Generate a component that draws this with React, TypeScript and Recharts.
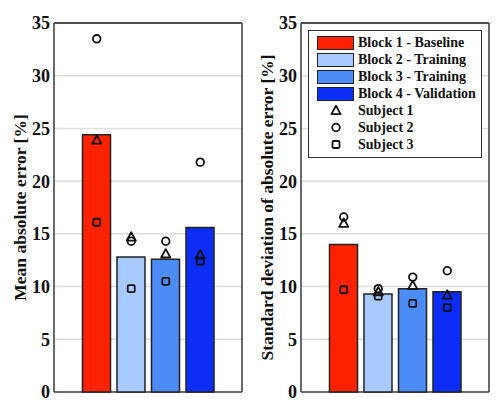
import React from "react";
import { ComposedChart, Bar, Scatter, XAxis, YAxis, CartesianGrid, Legend, Cell, ReferenceLine } from "recharts";

const blocks = ["Block 1 - Baseline", "Block 2 - Training", "Block 3 - Training", "Block 4 - Validation"];
const blockColors = ["#ff2200", "#a9caff", "#4b8cf7", "#0b2df6"];
const subjects = ["Subject 1", "Subject 2", "Subject 3"];
const yTicks = [0, 5, 10, 15, 20, 25, 30, 35];

// mean absolute error [%]
const meanError = [24.4, 12.8, 12.6, 15.6];
const meanS1 = [23.9, 14.7, 13.1, 13.0];
const meanS2 = [33.5, 14.3, 14.3, 21.8];
const meanS3 = [16.1, 9.8, 10.5, 12.4];

// standard deviation of absolute error [%]
const sdError = [14.0, 9.3, 9.8, 9.5];
const sdS1 = [16.0, 9.5, 10.1, 9.2];
const sdS2 = [16.6, 9.8, 10.9, 11.5];
const sdS3 = [9.7, 9.1, 8.4, 8.0];

const font = "'Liberation Serif', 'Times New Roman', serif";
const ink = "#111";

const meanData = blocks.map((b, i) => ({ block: b, value: meanError[i], s1: meanS1[i], s2: meanS2[i], s3: meanS3[i] }));
const sdData = blocks.map((b, i) => ({ block: b, value: sdError[i], s1: sdS1[i], s2: sdS2[i], s3: sdS3[i] }));

const Triangle = (p: any) =>
  p.cx == null ? null : (
    <path
      d={`M${p.cx},${p.cy - 4.8} L${p.cx + 4.6},${p.cy + 3.6} L${p.cx - 4.6},${p.cy + 3.6} Z`}
      fill="none"
      stroke={ink}
      strokeWidth={1.8}
      strokeLinejoin="round"
    />
  );
const Circle = (p: any) =>
  p.cx == null ? null : <circle cx={p.cx} cy={p.cy} r={3.8} fill="none" stroke={ink} strokeWidth={1.8} />;
const Square = (p: any) =>
  p.cx == null ? null : (
    <rect x={p.cx - 3.5} y={p.cy - 3.5} width={7} height={7} rx={1.2} fill="none" stroke={ink} strokeWidth={1.8} />
  );

const markerShapes = [Triangle, Circle, Square];

// box around the plot area, taken from the chart's own offset
const frameX = ({ offset }: any) => [offset.left, offset.left + offset.width];
const frameY = ({ offset }: any) => [offset.top, offset.top + offset.height];

function LegendBox() {
  return (
    <div
      style={{
        width: 174,
        height: 128,
        boxSizing: "border-box",
        border: "1.5px solid #333",
        background: "#fff",
        paddingTop: 3,
        fontFamily: font,
        fontWeight: 700,
        fontSize: 14,
        color: ink,
      }}
    >
      {blocks.map((b, i) => (
        <div key={b} style={{ display: "flex", alignItems: "center", height: 17 }}>
          <div
            style={{
              marginLeft: 8,
              width: 37,
              height: 14,
              boxSizing: "border-box",
              border: "1.5px solid #222",
              background: blockColors[i],
            }}
          />
          <span style={{ marginLeft: 4, whiteSpace: "nowrap" }}>{b}</span>
        </div>
      ))}
      {subjects.map((s, i) => {
        const Shape = markerShapes[i];
        return (
          <div key={s} style={{ display: "flex", alignItems: "center", height: 17 }}>
            <svg width={49} height={17}>
              <Shape cx={27} cy={8.5} />
            </svg>
            <span style={{ whiteSpace: "nowrap" }}>{s}</span>
          </div>
        );
      })}
    </div>
  );
}

function Panel({ data, title, yWidth, titleOffset, rightMargin, withLegend }: any) {
  const tickStyle = { fontSize: 18, fontWeight: 700, fill: ink, fontFamily: font };
  return (
    <ComposedChart width={250} height={410} data={data} margin={{ top: 23, right: rightMargin, bottom: 18, left: 0 }}>
      <CartesianGrid vertical={false} stroke="#dddddd" strokeWidth={1.5} />
      <CartesianGrid
        verticalCoordinatesGenerator={frameX}
        horizontalCoordinatesGenerator={frameY}
        stroke="#444"
        strokeWidth={1.6}
      />
      <XAxis
        dataKey="block"
        padding={{ left: 25.5, right: 24.5 }}
        tick={false}
        tickLine={false}
        height={0}
        axisLine={false}
      />
      <YAxis
        domain={[0, 35]}
        ticks={yTicks}
        interval={0}
        width={yWidth}
        tickLine={false}
        tickSize={2}
        tickMargin={2}
        tick={tickStyle}
        axisLine={false}
        label={{
          value: title,
          angle: -90,
          position: "insideLeft",
          offset: titleOffset,
          style: { textAnchor: "middle", fontSize: 17.5, fontWeight: 700, fontFamily: font, fill: ink },
        }}
      />
      <ReferenceLine y={35} stroke="#444" strokeWidth={1.6} />
      <Bar dataKey="value" barSize={28} stroke="#222" strokeWidth={1.5} isAnimationActive={false}>
        {data.map((d: any, i: number) => (
          <Cell key={d.block} fill={blockColors[i]} />
        ))}
      </Bar>
      <Scatter dataKey="s1" shape={Triangle} isAnimationActive={false} />
      <Scatter dataKey="s2" shape={Circle} isAnimationActive={false} />
      <Scatter dataKey="s3" shape={Square} isAnimationActive={false} />
      {withLegend && (
        <Legend
          layout="vertical"
          align="center"
          verticalAlign="middle"
          wrapperStyle={{ left: 58, top: 30, width: 174, height: 128 }}
          content={() => <LegendBox />}
        />
      )}
    </ComposedChart>
  );
}

export default function App() {
  return (
    <div style={{ position: "absolute", left: 0, top: 0, width: 500, height: 410, background: "#fff" }}>
      <div style={{ position: "absolute", left: 0, top: 0 }}>
        <Panel data={meanData} title="Mean absolute error [%]" yWidth={54} titleOffset={20} rightMargin={8} />
      </div>
      <div style={{ position: "absolute", left: 250, top: 0 }}>
        <Panel
          data={sdData}
          title="Standard deviation of absolute error [%]"
          yWidth={51}
          titleOffset={17}
          rightMargin={11}
          withLegend
        />
      </div>
    </div>
  );
}
